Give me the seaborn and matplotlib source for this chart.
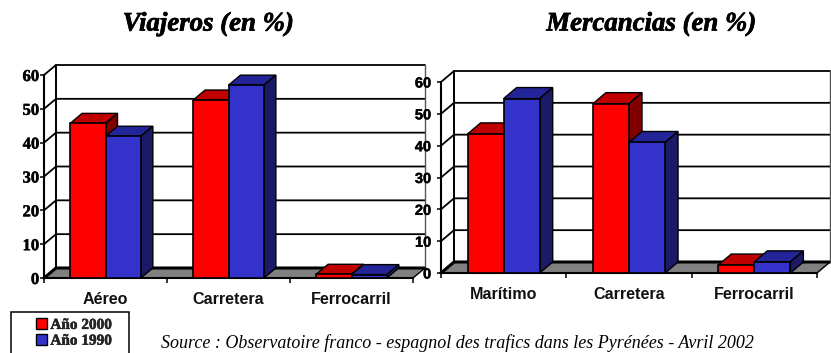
import matplotlib
matplotlib.use("Agg")
import matplotlib.pyplot as plt
from matplotlib.patches import Patch, Rectangle
import matplotlib.patheffects as pe
import pandas as pd
import seaborn as sns

# Modal split across the Pyrenees, in percent
years = ["Año 2000", "Año 1990"]
travel_modes = ["Aéreo", "Carretera", "Ferrocarril"]
travel_2000 = [45.7, 52.6, 1.1]
travel_1990 = [41.9, 57.0, 1.0]
freight_modes = ["Marítimo", "Carretera", "Ferrocarril"]
freight_2000 = [43.7, 53.2, 2.5]
freight_1990 = [54.8, 41.0, 3.5]
y_ticks = [0, 10, 20, 30, 40, 50, 60]

W, H = 831, 353
FRONT = {"Año 2000": "#FF0000", "Año 1990": "#3333CC"}
TOP = {"Año 2000": "#C00000", "Año 1990": "#242499"}
SIDE = {"Año 2000": "#800000", "Año 1990": "#1A1A66"}
SERIF = "Liberation Serif"
SANS = "Liberation Sans"
HEAVY = [pe.withStroke(linewidth=0.5, foreground="black")]
LIGHT_HEAVY = [pe.withStroke(linewidth=0.3, foreground="black")]

sns.set_theme(style="white")
fig = plt.figure(figsize=(W / 100, H / 100), dpi=100, facecolor="white")


def add_panel(box, depth, modes, first, second, tick_family, tick_pt, tick_pad):
    """Draw one pseudo-3D grouped bar panel; box is (left, top, right, bottom) in pixels."""
    left, top, right, bottom = box
    ax = fig.add_axes([left / W, 1 - bottom / H, (right - left) / W, (bottom - top) / H])
    ax.patch.set_visible(False)
    frame = pd.DataFrame({
        "mode": modes * 2,
        "year": [years[0]] * 3 + [years[1]] * 3,
        "value": list(first) + list(second),
    })
    sns.barplot(data=frame, x="mode", y="value", hue="year", hue_order=years,
                palette=FRONT, width=0.575, gap=0, dodge=True, saturation=1,
                edgecolor="black", linewidth=1.2, legend=False, ax=ax)
    ax.set_xlim(-0.5, 2.5)
    ax.set_ylim(0, 60)

    # Depth of the extrusion, converted from pixels to data units
    dx = depth[0] / ((right - left) / 3)
    dy = depth[1] / ((bottom - top) / 60)
    x0, x1 = -0.5, 2.5

    ax.fill([x0, x1, x1 + dx, x0 + dx], [0, 0, dy, dy], color="#808080", lw=0,
            clip_on=False, zorder=1)
    for v in y_ticks:
        ax.plot([x0, x0 + dx, x1 + dx], [v, v + dy, v + dy], color="black",
                lw=2.2 if v == 0 else 1.3, clip_on=False, zorder=1.5)
    ax.plot([x0 + dx, x0 + dx], [dy, 60 + dy], color="black", lw=1.4, clip_on=False, zorder=1.5)
    ax.plot([x1 + dx, x1 + dx], [dy, 60 + dy], color="#555555", lw=1.0, clip_on=False, zorder=1.5)
    ax.plot([x1, x1 + dx], [0, dy], color="black", lw=1.0, clip_on=False, zorder=1.5)

    # Extruded sides and tops are derived from the bars seaborn has drawn
    for j, (year, container) in enumerate(zip(years, ax.containers)):
        for bar in container:
            a, w, h = bar.get_x(), bar.get_width(), bar.get_height()
            bar.set_zorder(4 + 2 * j)
            ax.fill([a, a + w, a + w + dx, a + dx], [h, h, h + dy, h + dy], fc=TOP[year],
                    ec="black", lw=1.0, clip_on=False, zorder=3 + 2 * j)
            ax.fill([a + w, a + w + dx, a + w + dx, a + w], [0, dy, h + dy, h], fc=SIDE[year],
                    ec="black", lw=1.0, clip_on=False, zorder=3 + 2 * j)

    for name, spine in ax.spines.items():
        spine.set_visible(name in ("left", "bottom"))
        spine.set_color("black")
        spine.set_linewidth(1.5)
        spine.set_zorder(2)
    ax.set_xlabel("")
    ax.set_ylabel("")
    ax.set_xticks([x0, 0.5, 1.5, x1], minor=True)
    ax.tick_params(axis="x", which="minor", bottom=True, length=3.5, width=1.1, color="black")
    ax.tick_params(axis="x", which="major", bottom=False, pad=4)
    ax.set_xticks(range(3), modes)
    ax.set_yticks(y_ticks)
    ax.tick_params(axis="y", left=True, length=3, width=1.1, color="black", pad=tick_pad)
    for t in ax.get_xticklabels():
        t.set_fontfamily(SANS)
        t.set_fontweight("bold")
        t.set_fontsize(11.6)
        t.set_color("#111111")
    for t in ax.get_yticklabels():
        t.set_fontfamily(tick_family)
        t.set_fontweight("bold")
        t.set_fontsize(tick_pt)
        t.set_color("black")
        t.set_path_effects(LIGHT_HEAVY)
    return ax


add_panel((44, 75, 413, 278), (12, 10), travel_modes, travel_2000, travel_1990, SERIF, 12.0, 0.5)
add_panel((441, 82, 817, 273), (13, 11), freight_modes, freight_2000, freight_1990, SANS, 10.5, 4)

title_style = dict(family=SERIF, weight="bold", style="italic", fontsize=19.3,
                   ha="center", va="center", color="black", path_effects=HEAVY)
fig.text(208 / W, 1 - 24 / H, "Viajeros (en %)", **title_style)
fig.text(651 / W, 1 - 24 / H, "Mercancias (en %)", **title_style)

# Source note, sitting on the lower edge of the figure
fig.text(457 / W, 0.5 / H,
         "Source : Observatoire franco - espagnol des trafics dans les Pyrénées - Avril 2002",
         family=SERIF, style="italic", fontsize=12.95, ha="center", va="bottom", color="black")

# Legend: an outlined box running off the bottom of the figure, with entries inset
fig.add_artist(Rectangle((11 / W, -8 / H), 118 / W, (H - 312 + 8) / H, transform=fig.transFigure,
                         fc="white", ec="black", lw=1.1))
handles = [Patch(facecolor=FRONT[y], edgecolor="black", linewidth=1, label=y) for y in years]
legend = fig.legend(handles=handles, loc="upper left", bbox_to_anchor=(36 / W, 1 - 318 / H),
                    bbox_transform=fig.transFigure, borderaxespad=0, borderpad=0, frameon=False,
                    handlelength=0.72, handleheight=0.75, handletextpad=0.22, labelspacing=0.12,
                    prop={"family": SERIF, "weight": "bold", "size": 11.0})
for label in legend.get_texts():
    label.set_path_effects(LIGHT_HEAVY)

fig.savefig("out.png", dpi=100)
